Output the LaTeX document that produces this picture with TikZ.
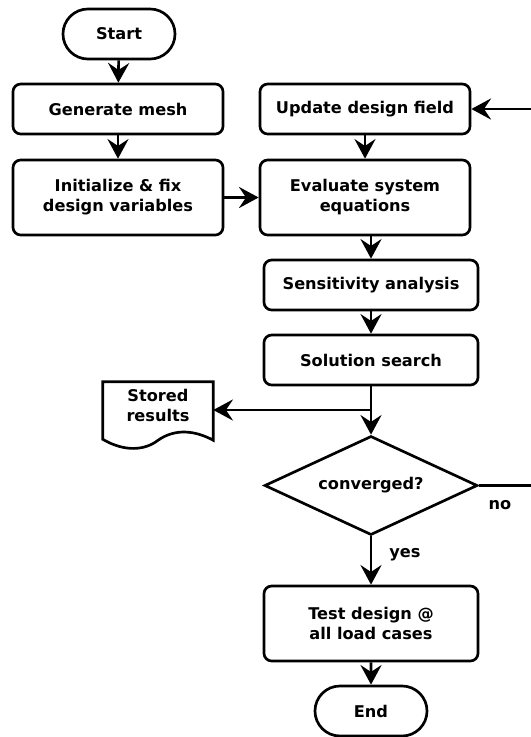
\documentclass[tikz,border=0pt]{standalone}
\usepackage{fontspec}
\setmainfont{DejaVu Sans}
\usetikzlibrary{shapes, arrows.meta, positioning, calc}

\tikzset{
  every node/.style={font=\bfseries\fontsize{11.5}{14.2}\selectfont, align=center},
  box/.style={draw, line width=1.9pt, rounded corners=5.5pt, minimum width=5.25cm, minimum height=1.25cm, inner sep=0pt},
  tallbox/.style={box, minimum height=1.875cm},
  wide/.style={minimum width=5.35cm},
  term/.style={draw, line width=1.9pt, rounded rectangle, minimum width=2.8cm, minimum height=1.25cm, inner sep=0pt},
  decision/.style={draw, line width=1.9pt, diamond, shape aspect=2.15, minimum width=5.325cm, minimum height=2.475cm, inner sep=0pt},
  flow/.style={line width=1.9pt, -{Stealth[length=14pt,width=15pt,inset=5pt]}},
  wire/.style={line width=1.9pt}
}

\begin{document}
\begin{tikzpicture}[x=0.025cm, y=-0.025cm]
\clip (0,0) rectangle (531,737);

% left column
\node[term] (start) at (119,34) {Start};
\node[box] (mesh) at (118,109) {Generate mesh};
\node[tallbox] (init) at (118,197.5) {Initialize \& fix\\design variables};

% right column
\node[box] (update) at (365,109) {Update design field};
\node[tallbox] (eval) at (365,197.5) {Evaluate system\\equations};
\node[box, wide] (sens) at (371,285) {Sensitivity analysis};
\node[box, wide] (search) at (371,360) {Solution search};
\node[decision] (conv) at (371,485.5) {converged?};
\node[tallbox, wide] (test) at (371,623.5) {Test design @\\all load cases};
\node[term] (stop) at (371,711) {End};

% stored results (document shape)
\node[minimum width=2.75cm, minimum height=1.15cm, inner sep=0pt] (store) at (158,405) {Stored\\results};
\draw[wire] (store.north west) -- (store.north east) -- ($(store.south east)+(0,12)$)
  .. controls ($(store.south)+(37,2)$) and ($(store.south)+(17,0)$) .. ($(store.south)+(0,12)$)
  .. controls ($(store.south)+(-13,22)$) and ($(store.south)+(-33,24)$) .. ($(store.south west)+(0,11)$)
  -- cycle;

\node (yes) at (405,555) {yes};
\node (no) at (500,505) {no};

\coordinate (split) at (371,410);
\coordinate (loop) at (560,485.5);

% connectors
\draw[flow] (start) -- (mesh);
\draw[flow] (mesh) -- (init);
\draw[flow] (init) -- (eval);
\draw[flow] (update) -- (eval);
\draw[flow] (eval.south -| sens.north) -- (sens);
\draw[flow] (sens) -- (search);
\draw[flow] (search) -- (conv);
\draw[flow] (split) -- (split -| store.east);
\draw[flow] (conv) -- (test);
\draw[flow] (test) -- (stop);
\draw[flow] (conv.east) -- (loop) |- (update.east);
\end{tikzpicture}
\end{document}
